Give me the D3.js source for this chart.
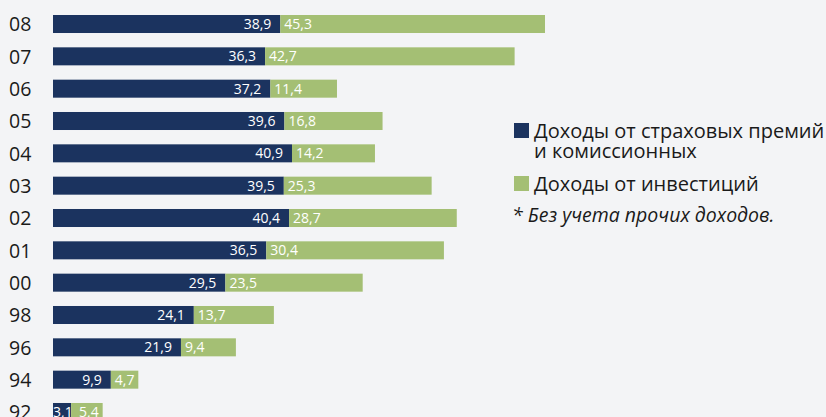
<!DOCTYPE html>
<html lang="ru">
<head>
<meta charset="UTF-8">
<title>Доходы</title>
<script src="https://d3js.org/d3.v7.min.js"></script>
<style>
    html, body { margin: 0; padding: 0; background: #f3f4f6; }
    body { font-family: "Open Sans", "Noto Sans", sans-serif; }
    svg { display: block; }
    .cat { font-size: 19.5px; fill: #1a1a1a; }
    .val { font-size: 14px; fill: #ffffff; }
    .legend { font-size: 20px; fill: #1a1a1a; }
    .note { font-size: 19.5px; font-style: italic; fill: #1a1a1a; }
</style>
</head>
<body>
<svg width="826" height="417"></svg>
<script>
    // данные
    const years = ["08", "07", "06", "05", "04", "03", "02", "01", "00", "98", "96", "94", "92"];
    const premiums = [38.9, 36.3, 37.2, 39.6, 40.9, 39.5, 40.4, 36.5, 29.5, 24.1, 21.9, 9.9, 3.1];
    const investments = [45.3, 42.7, 11.4, 16.8, 14.2, 25.3, 28.7, 30.4, 23.5, 13.7, 9.4, 4.7, 5.4];
    const seriesNames = ["Доходы от страховых премий\nи комиссионных", "Доходы от инвестиций"];
    const colors = ["#1b335f", "#a4bf74"];
    const footnote = "* Без учета прочих доходов.";

    const rows = years.map((y, i) => ({ year: y, a: premiums[i], b: investments[i] }));

    const svg = d3.select("svg");

    const x = d3.scaleLinear().domain([0, 84.2]).range([53, 545]);
    const y = d3.scaleBand()
        .domain(years)
        .range([15, 421])
        .paddingInner(0.443)
        .paddingOuter(0);

    const fmt = v => d3.format(".1f")(v).replace(".", ",");
    const narrow = d => x(d.a) - x(0) < 30;

    const g = svg.append("g");

    // подписи категорий
    g.selectAll(".cat")
        .data(rows)
        .enter()
        .append("text")
        .attr("class", "cat")
        .attr("x", 9)
        .attr("y", d => y(d.year) + y.bandwidth() / 2)
        .attr("dy", "0.37em")
        .text(d => d.year);

    // тёмные сегменты
    g.selectAll(".barA")
        .data(rows)
        .enter()
        .append("rect")
        .attr("x", x(0))
        .attr("y", d => y(d.year))
        .attr("width", d => x(d.a) - x(0))
        .attr("height", y.bandwidth())
        .attr("fill", colors[0]);

    // зелёные сегменты
    g.selectAll(".barB")
        .data(rows)
        .enter()
        .append("rect")
        .attr("x", d => x(d.a))
        .attr("y", d => y(d.year))
        .attr("width", d => x(d.a + d.b) - x(d.a))
        .attr("height", y.bandwidth())
        .attr("fill", colors[1]);

    // значения
    g.selectAll(".valA")
        .data(rows)
        .enter()
        .append("text")
        .attr("class", "val")
        .attr("x", d => narrow(d) ? x(0) : x(d.a) - 9)
        .attr("y", d => y(d.year) + y.bandwidth() / 2)
        .attr("dy", "0.36em")
        .attr("text-anchor", d => narrow(d) ? "start" : "end")
        .text(d => fmt(d.a));

    g.selectAll(".valB")
        .data(rows)
        .enter()
        .append("text")
        .attr("class", "val")
        .attr("x", d => narrow(d) ? x(d.a) + 8 : x(d.a) + 4)
        .attr("y", d => y(d.year) + y.bandwidth() / 2)
        .attr("dy", "0.36em")
        .text(d => fmt(d.b));

    // легенда
    const lg = svg.append("g");
    const legendY = [123, 176];
    seriesNames.forEach((name, i) => {
        lg.append("rect")
            .attr("x", 514)
            .attr("y", legendY[i])
            .attr("width", 15)
            .attr("height", 15)
            .attr("fill", colors[i]);
        const t = lg.append("text")
            .attr("class", "legend")
            .attr("x", 534)
            .attr("y", legendY[i] + 15);
        name.split("\n").forEach((line, j) => {
            t.append("tspan")
                .attr("x", 534)
                .attr("dy", j === 0 ? 0 : 20)
                .text(line);
        });
    });

    lg.append("text")
        .attr("class", "note")
        .attr("x", 512)
        .attr("y", 222)
        .text(footnote);
</script>
</body>
</html>
